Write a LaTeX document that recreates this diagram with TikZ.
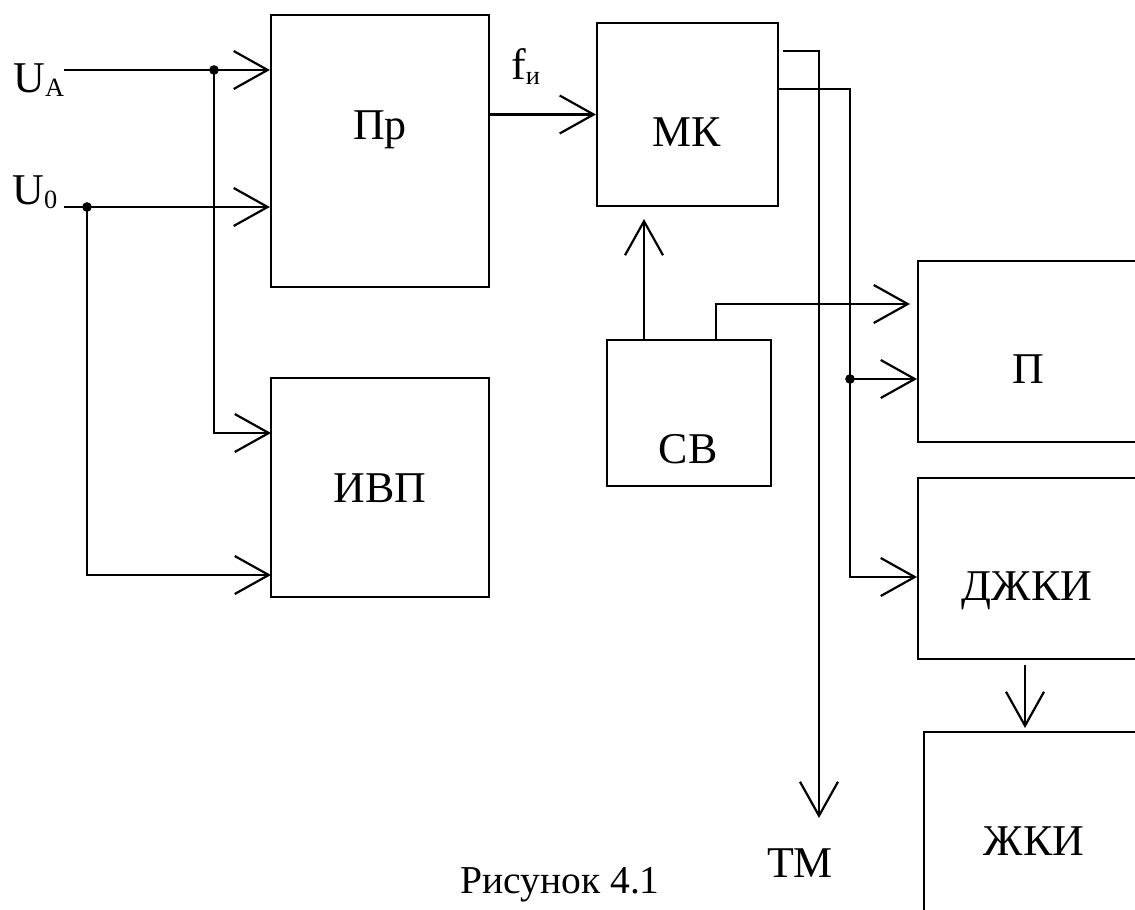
\documentclass[tikz,border=0pt]{standalone}
\usepackage{fontspec}
\setmainfont{Liberation Serif}
\usetikzlibrary{arrows.meta}

% lowered small index, as in U_A, f_и
\newcommand{\lowidx}[1]{\raisebox{-2.8pt}{\fontsize{15}{15}\selectfont #1}}

\tikzset{
  blk/.style={draw, line width=1.25pt, inner sep=0pt},
  wire/.style={line width=1.25pt},
  lbl/.style={font=\fontsize{25}{30}\selectfont, inner sep=0pt},
  jdot/.style={circle, fill, inner sep=0pt, minimum size=5.5pt},
}

\begin{document}
\begin{tikzpicture}[x=0.02cm, y=-0.02cm, >={Straight Barb[length=0.68cm, width=0.76cm]}]
\useasboundingbox (0,0) rectangle (1135,909);

% =========================================================
%  Blocks
% =========================================================
\node[blk, minimum width=4.36cm, minimum height=5.44cm] (pr)    at (380,151)    {};
\node[blk, minimum width=4.36cm, minimum height=4.38cm] (ivp)   at (380,487.5)  {};
\node[blk, minimum width=3.62cm, minimum height=3.66cm] (mk)    at (687.5,114.5){};
\node[blk, minimum width=3.28cm, minimum height=2.92cm] (sv)    at (689,413)    {};
\node[blk, minimum width=4.40cm, minimum height=3.62cm] (p)     at (1028,351.5) {};
\node[blk, minimum width=4.36cm, minimum height=3.62cm] (dzhki) at (1027,568.5) {};
\node[blk, minimum width=4.40cm, minimum height=4.32cm] (zhki)  at (1034,840)   {};

% block texts
\node[lbl, anchor=base] (prtxt)    at (380,139)  {Пр};
\node[lbl, anchor=base] (ivptxt)   at (380,502)  {ИВП};
\node[lbl, anchor=base] (mktxt)    at (687,146)  {МК};
\node[lbl, anchor=base] (svtxt)    at (688,463)  {СВ};
\node[lbl, anchor=base] (ptxt)     at (1028,383) {П};
\node[lbl, anchor=base] (dzhkitxt) at (1027,600) {ДЖКИ};
\node[lbl, anchor=base] (zhkitxt)  at (1034,855) {ЖКИ};

% =========================================================
%  Inputs and junctions
% =========================================================
\node[lbl, anchor=base west] (ualbl) at (13,92)  {U\lowidx{A}};
\node[lbl, anchor=base west] (u0lbl) at (12,204) {U\lowidx{0}};

\coordinate (ua) at (64,70);
\coordinate (u0) at (64,207);
\node[jdot] (ja) at (214,70)  {};
\node[jdot] (j0) at (87,207)  {};
\node[jdot] (jp) at (850,379) {};

\coordinate (ivpa) at (271,433);
\coordinate (ivpz) at (271,575);

\draw[wire, ->] (ua) -- (pr.west |- ua);
\draw[wire, ->] (u0) -- (pr.west |- u0);
\draw[wire, ->] (ja.center) |- (ivpa);
\draw[wire, ->] (j0.center) |- (ivpz);

% Pr -> MK
\node[lbl, anchor=base west] (filbl) at (511,80) {f\lowidx{и}};
\draw[wire, ->] (pr.east |- mk.west) -- (mk.west);

% =========================================================
%  MK outputs
% =========================================================
\coordinate (mko1) at (783,51);
\coordinate (mko2) at (778,89);
\coordinate (tm)   at (819,818);
\coordinate (pb)   at (917,379);
\coordinate (dzin) at (917,577);

\draw[wire, ->] (mko1) -| (tm);
\draw[wire] (mko2) -| (jp.center);
\draw[wire, ->] (jp.center) -- (pb);
\draw[wire, ->] (jp.center) |- (dzin);

\node[lbl, anchor=base] (tmlbl) at (800,877) {ТМ};

% SV -> MK, SV -> P
\coordinate (sva) at (644,340);
\coordinate (mkb) at (644,219);
\coordinate (svb) at (716,340);
\coordinate (pa)  at (910,304);
\draw[wire, ->] (sva) -- (mkb);
\draw[wire, ->] (svb) |- (pa);

% DZhKI -> ZhKI
\coordinate (dzo)  at (1025,665);
\coordinate (zhin) at (1025,728);
\draw[wire, ->] (dzo) -- (zhin);

% caption
\node[lbl, font=\fontsize{22.5}{27}\selectfont, anchor=base west] (caption) at (460,893) {Рисунок 4.1};

\end{tikzpicture}
\end{document}
